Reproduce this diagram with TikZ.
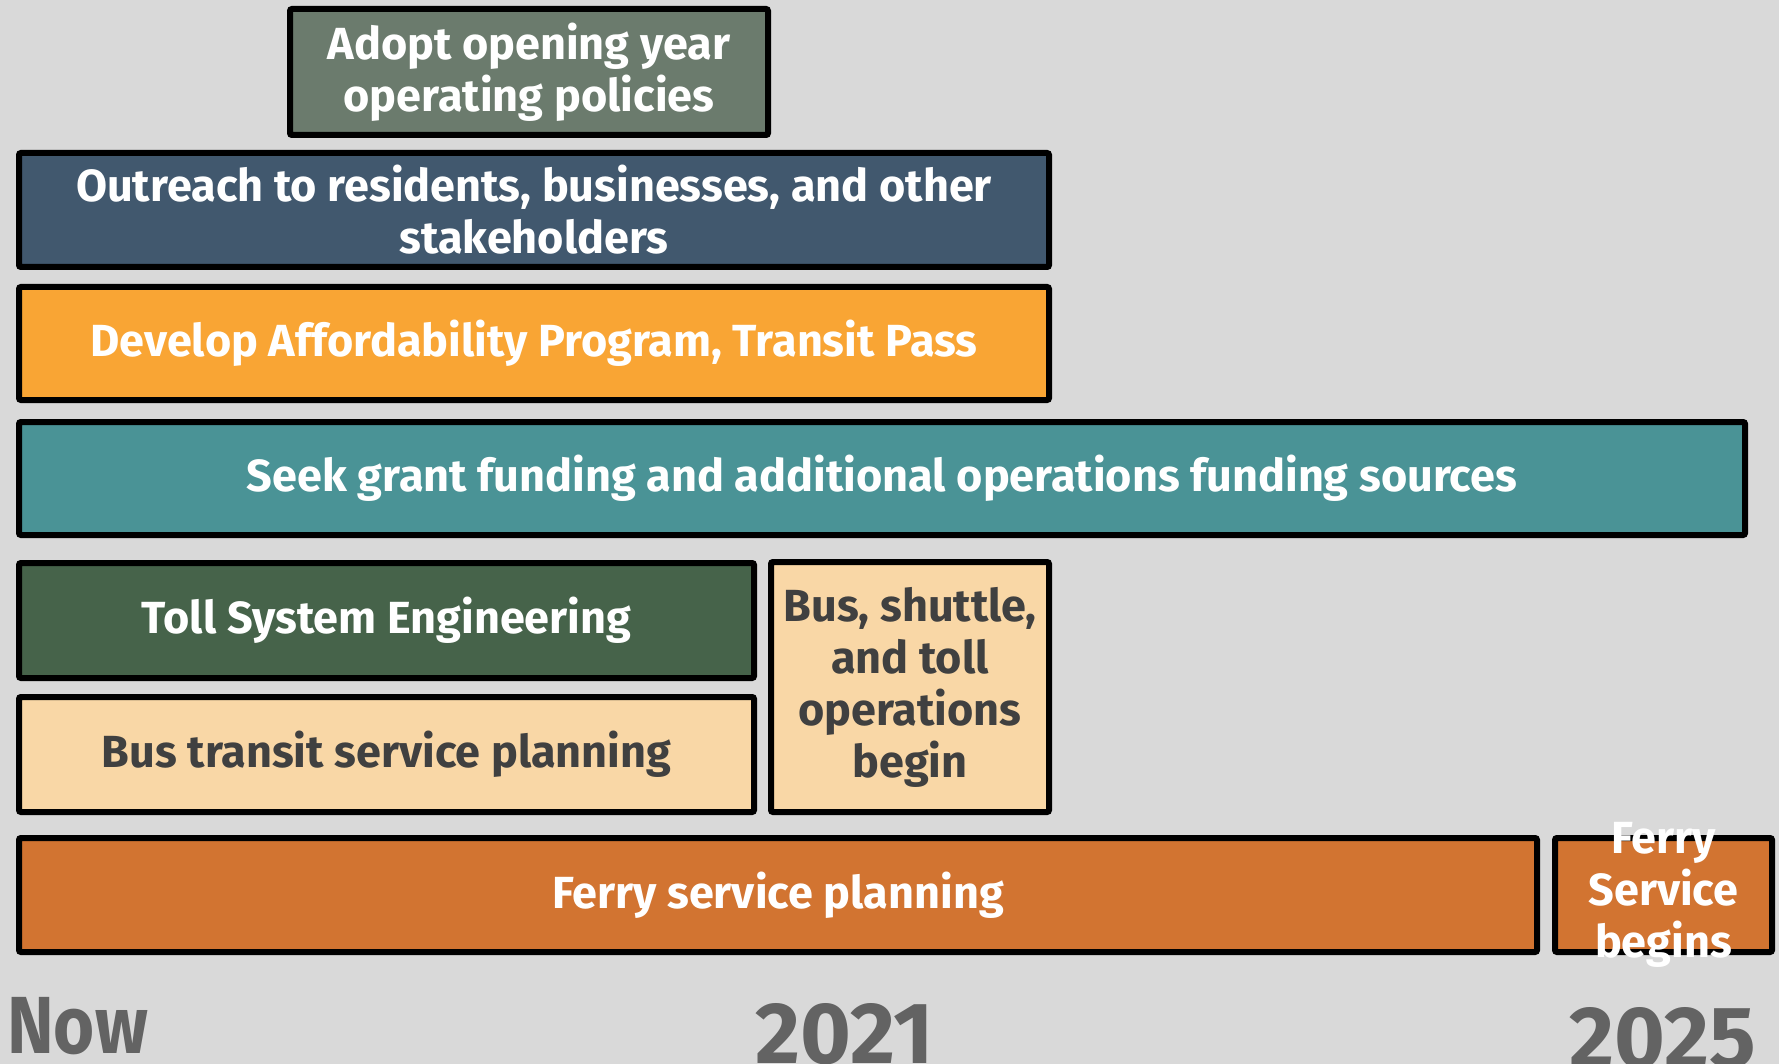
\documentclass[tikz,border=0pt]{standalone}
\usepackage{fontspec}
\setmainfont{Fira Sans}
\newfontfamily\narrowfont{Fira Sans}[FakeStretch=0.87]
\definecolor{bg}{HTML}{D9D9D9}
\definecolor{cAdopt}{HTML}{6B7B6D}
\definecolor{cOut}{HTML}{41586E}
\definecolor{cDev}{HTML}{F9A534}
\definecolor{cSeek}{HTML}{4A9396}
\definecolor{cToll}{HTML}{46634A}
\definecolor{cPeach}{HTML}{F9D7A6}
\definecolor{cFerry}{HTML}{D27431}
\definecolor{cDark}{HTML}{404040}
\definecolor{cAxis}{HTML}{636363}
\begin{document}
\begin{tikzpicture}[x=1pt,y=-1pt,
  bar/.style={draw=black, line width=6pt, rounded corners=2pt, anchor=north west,
    inner sep=0pt, align=center, text=white,
    font=\fontsize{45}{52}\selectfont\bfseries},
  bartext/.style={inner sep=0pt, align=center, text=white,
    font=\fontsize{45}{52}\selectfont\bfseries},
  darktext/.style={text=cDark},
  axislabel/.style={anchor=base west, text=cAxis, inner sep=0pt}]
\fill[bg] (0,0) rectangle (1779,1064);
\useasboundingbox (0,0) rectangle (1779,1064);

\node[bar, fill=cAdopt, minimum width=478pt, minimum height=126pt] (adopt) at (287,6)
  {Adopt opening year\\operating policies};
\node[bar, fill=cOut, minimum width=1030pt, minimum height=114pt] (outreach) at (16,150)
  {Outreach to residents, businesses, and other\\stakeholders};
\node[bar, fill=cDev, minimum width=1030pt, minimum height=113pt] (develop) at (16,284)
  {Develop Affordability Program, Transit Pass};
\node[bar, fill=cSeek, minimum width=1726pt, minimum height=113pt] (seek) at (16,419)
  {Seek grant funding and additional operations funding sources};
\node[bar, fill=cToll, minimum width=735pt, minimum height=115pt] (toll) at (16,560)
  {Toll System Engineering};
\node[bar, darktext, fill=cPeach, minimum width=735pt, minimum height=115pt] (bustransit) at (16,694)
  {Bus transit service planning};
\node[bar, darktext, fill=cPeach, minimum width=278pt, minimum height=250pt] (busops) at (768,559)
  {Bus, shuttle,\\and toll\\operations\\begin};
\node[bar, fill=cFerry, minimum width=1518pt, minimum height=114pt] (ferryplan) at (16,835)
  {Ferry service planning};
\node[bar, fill=cFerry, minimum width=217pt, minimum height=114pt] (ferrybegin) at (1552,835) {};
\node[bartext] (ferrybegintext) at (ferrybegin.center) {Ferry\\Service\\begins};

\node[axislabel, font=\narrowfont\fontsize{81}{84}\selectfont\bfseries] (now) at (7,1053) {Now};
\node[axislabel, font=\fontsize{87}{90}\selectfont\bfseries] (y2021) at (755,1063) {2021};
\node[axislabel, font=\fontsize{87}{90}\selectfont\bfseries] (y2025) at (1569,1067) {2025};
\end{tikzpicture}
\end{document}
